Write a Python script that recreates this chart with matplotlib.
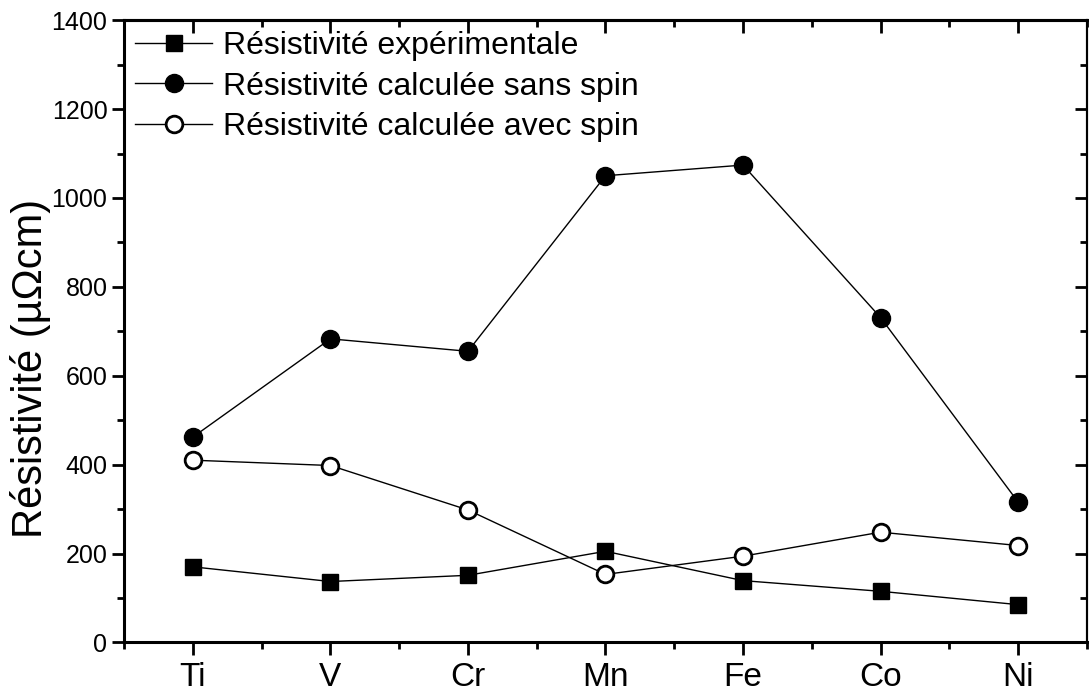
import matplotlib
matplotlib.use("Agg")
import matplotlib.pyplot as plt
from matplotlib.ticker import MultipleLocator
from matplotlib import font_manager

# elements on the x axis
elements = ["Ti", "V", "Cr", "Mn", "Fe", "Co", "Ni"]

# resistivity values (µΩcm)
rho_exp = [170, 137, 151, 205, 139, 115, 85]
rho_sans_spin = [462, 683, 655, 1050, 1074, 731, 316]
rho_avec_spin = [410, 398, 298, 153, 194, 248, 218]

# pick a narrow sans font if one is there
names = {f.name for f in font_manager.fontManager.ttflist}
family = [n for n in ["Liberation Sans Narrow", "Liberation Sans", "DejaVu Sans"] if n in names]
plt.rcParams["font.family"] = family

fig = plt.figure(figsize=(10.89, 6.96), dpi=100)
ax = fig.add_axes([0.114, 0.077, 0.884, 0.894])

x = list(range(1, len(elements) + 1))
ax.plot(x, rho_exp, "-", color="black", lw=1, marker="s", ms=11,
        mfc="black", mec="black", label="Résistivité expérimentale")
ax.plot(x, rho_sans_spin, "-", color="black", lw=1, marker="o", ms=13,
        mfc="black", mec="black", label="Résistivité calculée sans spin")
ax.plot(x, rho_avec_spin, "-", color="black", lw=1, marker="o", ms=12,
        mfc="white", mec="black", mew=2, label="Résistivité calculée avec spin")

ax.set_xlim(0.5, len(elements) + 0.5)
ax.set_ylim(0, 1400)
ax.set_xticks(x)
ax.set_xticklabels(elements)
ax.xaxis.set_minor_locator(MultipleLocator(0.5))
ax.yaxis.set_major_locator(MultipleLocator(200))
ax.yaxis.set_minor_locator(MultipleLocator(100))

# left/bottom ticks point out
ax.tick_params(axis="both", which="major", length=9, width=2, labelsize=18)
ax.tick_params(axis="both", which="minor", length=5, width=2)
ax.tick_params(axis="x", labelsize=24, pad=5)
ax.tick_params(axis="y", pad=3)

# top/right ticks point in
sec_x = ax.secondary_xaxis("top")
sec_x.set_xticks(x)
sec_x.xaxis.set_minor_locator(MultipleLocator(0.5))
sec_x.tick_params(which="both", direction="in", labeltop=False, width=2)
sec_x.tick_params(which="major", length=9)
sec_x.tick_params(which="minor", length=5)
sec_y = ax.secondary_yaxis("right")
sec_y.yaxis.set_major_locator(MultipleLocator(200))
sec_y.yaxis.set_minor_locator(MultipleLocator(100))
sec_y.tick_params(which="both", direction="in", labelright=False, width=2)
sec_y.tick_params(which="major", length=9)
sec_y.tick_params(which="minor", length=5)

for side in ["left", "bottom", "top"]:
    ax.spines[side].set_linewidth(2.2)
ax.spines["right"].set_linewidth(1.5)
sec_x.spines["top"].set_linewidth(2.2)
sec_y.spines["right"].set_linewidth(1.5)

ax.set_ylabel("Résistivité (µΩcm)", fontsize=30)
ax.yaxis.set_label_coords(-0.076, 0.44)

leg = ax.legend(loc="upper left", frameon=False, fontsize=23, numpoints=1,
                handlelength=2.4, handletextpad=0.35, labelspacing=0.32,
                borderaxespad=0.25, borderpad=0.1)

fig.savefig("out.png", dpi=100)
